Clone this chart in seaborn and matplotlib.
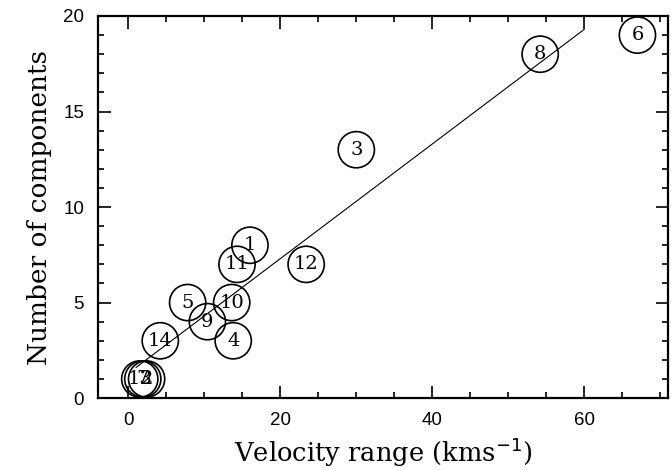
import matplotlib
matplotlib.use("Agg")
import matplotlib.pyplot as plt
import seaborn as sns
import pandas as pd
from matplotlib.ticker import MultipleLocator

ids = ["1", "2", "3", "4", "5", "6", "7", "8", "9", "10", "11", "12", "13", "14"]
velocity = [16.0, 2.4, 30.0, 13.8, 7.8, 67.0, 1.9, 54.2, 10.4, 13.6, 14.3, 23.4, 1.5, 4.2]
components = [8, 1, 13, 3, 5, 19, 1, 18, 4, 5, 7, 7, 1, 3]
fit_x = [1.0, 60.0]
fit_y = [1.6, 19.3]

df = pd.DataFrame({"id": ids, "v": velocity, "n": components})
fit = pd.DataFrame({"x": fit_x, "y": fit_y})

sns.set_theme(style="ticks")
plt.rcParams["text.color"] = "black"
plt.rcParams["axes.labelcolor"] = "black"
plt.rcParams["xtick.color"] = "black"
plt.rcParams["ytick.color"] = "black"
fig = plt.figure(figsize=(6.72, 4.70), dpi=100)
ax = fig.add_axes([0.1458, 0.153, 0.848, 0.813])

sns.lineplot(data=fit, x="x", y="y", ax=ax, color="black", linewidth=0.8)
sns.scatterplot(data=df, x="v", y="n", ax=ax, s=680, facecolor="none",
                edgecolor="black", linewidth=1.2, zorder=3)
for _, r in df.iterrows():
    ax.text(r["v"], r["n"], r["id"], ha="center", va="center",
            fontsize=14, family="DejaVu Serif", color="black", zorder=4)

ax.set_xlim(-4, 71)
ax.set_ylim(0, 20)
ax.xaxis.set_major_locator(MultipleLocator(20))
ax.xaxis.set_minor_locator(MultipleLocator(5))
ax.yaxis.set_major_locator(MultipleLocator(5))
ax.yaxis.set_minor_locator(MultipleLocator(1))
ax.tick_params(which="both", direction="in", top=True, right=True,
               labeltop=False, labelright=False, color="black", width=1.2,
               labelcolor="black")
ax.tick_params(which="major", length=9, labelsize=13.5, pad=10)
ax.tick_params(which="minor", length=4.5)
for lab in ax.get_xticklabels() + ax.get_yticklabels():
    lab.set_family("Liberation Sans")
for sp in ax.spines.values():
    sp.set_linewidth(1.6)
    sp.set_color("black")

ax.set_xlabel(r"Velocity range (kms$^{-1}$)", fontsize=18.5, family="DejaVu Serif",
              color="black", labelpad=5)
ax.set_ylabel("Number of components", fontsize=19, family="DejaVu Serif",
              color="black", labelpad=8)

fig.savefig("out.png", dpi=100)
